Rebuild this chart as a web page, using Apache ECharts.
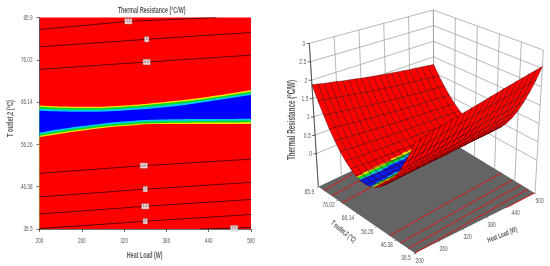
<!DOCTYPE html>
<html><head><meta charset="utf-8">
<style>html,body{margin:0;padding:0;background:#fff}#c{width:550px;height:266px}</style>
<script src="https://cdn.jsdelivr.net/npm/echarts@6/dist/echarts.min.js"></script></head>
<body><div id="c"></div>
<script>
const heatLoadTicks=[200,260,320,380,440,500];
const tOutletTicks=[36.5,46.38,56.26,66.14,76.02,85.9];
const resistanceTicks=[0,0.5,1,1.5,2,2.5,3];
const titleText='Thermal Resistance (°C/W)';
const xTitle='Heat Load (W)';
const yTitle='T outlet,2 (°C)';
const upperYellow=[65.36,65.05,65.36,66.22,67.38,68.94];
const upperGreen=[65.05,64.75,65.06,65.92,67.05,68.6];
const upperCyan=[64.6,64.35,64.65,65.45,66.7,68.2];
const upperBlue=[64.12,63.88,64.19,64.97,66.29,67.77];
const lowerBlue=[59.0,60.54,61.63,62.09,62.17,62.25];
const lowerCyan=[58.6,60.15,61.2,61.65,61.75,61.85];
const lowerGreen=[58.25,59.75,60.8,61.25,61.35,61.45];
const lowerYellow=[57.97,59.45,60.54,61.0,61.0,61.0];
const contour15Up=[[200,83.1],[326,85.0],[451,85.9]];
const contour10Up=[[200,79.05],[352,80.8],[500,82.4]];
const contour05Up=[[200,73.8],[352,75.5],[500,77.1]];
const contour05Low=[[200,49.5],[348,51.3],[500,52.8]];
const contour10Low=[[200,44.0],[350,45.8],[500,47.4]];
const contour15Low=[[200,40.0],[350,41.8],[500,43.4]];
const contour20Low=[[200,36.6],[350,38.3],[500,39.9]];
const contour25Low=[[428,36.5],[476,36.7],[500,36.85]];
const contourLabels=['1.5','1','0.5','0.5','1','1.5','2','2.5'];
// rows: T outlet from 36.5 to 85.9; columns: heat load from 200 to 500
const surface=[
[1.70,1.74,1.78,1.82,1.86,1.90,1.94,1.98,2.02,2.06,2.10,2.14,2.19,2.23,2.28,2.32,2.37,2.41,2.46,2.50,2.55],
[1.38,1.42,1.45,1.49,1.52,1.56,1.59,1.63,1.66,1.70,1.73,1.77,1.81,1.85,1.89,1.93,1.96,2.00,2.04,2.08,2.12],
[1.10,1.13,1.16,1.19,1.22,1.25,1.27,1.30,1.33,1.36,1.39,1.42,1.46,1.49,1.53,1.56,1.60,1.63,1.67,1.70,1.74],
[.84,.87,.89,.92,.94,.97,1.00,1.02,1.05,1.07,1.10,1.13,1.16,1.19,1.22,1.25,1.27,1.30,1.33,1.36,1.39],
[.63,.65,.67,.69,.71,.73,.75,.77,.79,.81,.83,.86,.88,.91,.93,.96,.98,1.01,1.03,1.06,1.08],
[.44,.46,.47,.49,.51,.53,.54,.56,.58,.59,.61,.63,.65,.67,.69,.71,.73,.75,.77,.79,.81],
[.29,.30,.32,.33,.34,.36,.37,.38,.40,.41,.42,.44,.45,.47,.48,.50,.52,.53,.55,.56,.58],
[.165,.17,.18,.19,.20,.21,.22,.23,.24,.25,.26,.27,.29,.30,.31,.33,.34,.35,.36,.38,.39],
[.08,.08,.09,.10,.10,.11,.12,.12,.13,.14,.14,.15,.16,.17,.18,.19,.20,.21,.22,.23,.24],
[.02,.03,.03,.03,.04,.04,.04,.05,.05,.05,.06,.06,.07,.08,.08,.09,.09,.10,.11,.11,.12],
[.00,.00,.00,.00,.01,.01,.01,.01,.01,.01,.01,.02,.02,.02,.02,.03,.03,.03,.04,.04,.04],
[.01,.01,.01,.01,.01,.00,.00,.00,.00,.00,.00,.00,.00,.00,.00,.00,.00,.00,.00,.01,.01],
[.07,.06,.06,.05,.05,.05,.04,.04,.03,.03,.03,.02,.02,.02,.01,.01,.01,.01,.00,.00,.00],
[.16,.15,.14,.13,.12,.12,.11,.11,.10,.09,.09,.08,.08,.07,.07,.06,.06,.05,.05,.04,.04],
[.29,.27,.26,.25,.24,.23,.22,.21,.20,.19,.18,.17,.17,.16,.15,.14,.13,.13,.12,.11,.11],
[.45,.44,.42,.41,.40,.38,.37,.36,.34,.33,.32,.31,.30,.29,.28,.27,.26,.25,.23,.22,.21],
[.66,.64,.62,.61,.59,.57,.56,.54,.52,.51,.49,.48,.46,.45,.43,.42,.41,.39,.38,.36,.35],
[.90,.88,.86,.84,.82,.80,.78,.76,.74,.72,.70,.68,.66,.65,.63,.61,.59,.58,.56,.54,.52],
[1.19,1.16,1.14,1.11,1.09,1.06,1.04,1.01,.99,.96,.94,.92,.90,.88,.86,.84,.81,.79,.77,.75,.73],
[1.51,1.48,1.45,1.42,1.39,1.37,1.34,1.31,1.28,1.25,1.22,1.20,1.17,1.15,1.12,1.10,1.07,1.05,1.02,1.00,.97],
[1.87,1.84,1.80,1.77,1.74,1.70,1.67,1.64,1.60,1.57,1.54,1.51,1.48,1.45,1.42,1.39,1.36,1.34,1.31,1.28,1.25]
];

const FONT='"Liberation Sans",sans-serif';
const GRAY='#5a5a5a';
const Q0=200,Q1=500,T0=36.5,T1=85.9,Z0=-0.9,Z1=3;
const contours=[contour15Up,contour10Up,contour05Up,contour05Low,contour10Low,contour15Low,contour20Low,contour25Low];
const bandLayers=[[upperYellow,'#ffe000'],[upperGreen,'#00e020'],[upperCyan,'#00c8f0'],[upperBlue,'#0000ff'],
 [lowerBlue,'#00c8f0'],[lowerCyan,'#00e020'],[lowerGreen,'#ffe000'],[lowerYellow,'#ff0000']];

// Projection of the 3D box into the scene axes (trilinear between the box corners)
const C={b00:[420,760],b10:[780,580],b01:[130,560],b11:[477,395],t00:[420,261],t10:[805,150],t01:[103,130],t11:[475,30]};
function proj(q,t,z){
 const u=(q-Q0)/(Q1-Q0),v=(t-T0)/(T1-T0),w=(z-Z0)/(Z1-Z0);
 const m=k=>{
  const b=(1-u)*(1-v)*C.b00[k]+u*(1-v)*C.b10[k]+(1-u)*v*C.b01[k]+u*v*C.b11[k];
  const a=(1-u)*(1-v)*C.t00[k]+u*(1-v)*C.t10[k]+(1-u)*v*C.t01[k]+u*v*C.t11[k];
  return b+(a-b)*w;};
 return [m(0),m(1)];
}
const qAt=j=>Q0+(Q1-Q0)*j/20, tAt=i=>T0+(T1-T0)*i/20;
function cellColor(z){return z<.02?'#0018ff':z<.03?'#00c0f0':z<.045?'#00e020':z<.06?'#f8e800':'#ff0000';}
const cells=[];
for(let j=19;j>=0;j--)for(let i=19;i>=0;i--)cells.push([j,i]);

function line(api,a,b,color,w){const p=api.coord(a),r=api.coord(b);
 return {type:'line',shape:{x1:p[0],y1:p[1],x2:r[0],y2:r[1]},style:{stroke:color,lineWidth:w}};}
function poly(api,pts,fill){return {type:'polygon',shape:{points:pts.map(p=>api.coord(p))},style:{fill:fill,stroke:null}};}
function txtPx(c,text,size,rot,bold,align,sx){
 return {type:'text',x:c[0],y:c[1],rotation:rot||0,scaleX:sx,style:{text:text,x:0,y:0,align:align||'center',verticalAlign:'middle',fontFamily:FONT,fontSize:size,fontWeight:bold?'bold':'normal',fill:GRAY}};}
function txt(api,p,text,size,rot,bold,align,sx){return txtPx(api.coord(p),text,size,rot,bold,align,sx);}

const scene={coordinateSystem:'cartesian2d',xAxisIndex:1,yAxisIndex:1,silent:true,progressive:0,animation:false};
const series=[];
bandLayers.forEach(l=>series.push({type:'line',xAxisIndex:0,yAxisIndex:0,smooth:true,symbol:'none',silent:true,
 lineStyle:{width:0},areaStyle:{color:l[1],opacity:1,origin:'start'},data:heatLoadTicks.map((q,i)=>[q,l[0][i]])}));
contours.forEach(c=>series.push({type:'line',xAxisIndex:0,yAxisIndex:0,symbol:'none',silent:true,z:4,
 lineStyle:{width:.7,color:'#1a0000'},data:c}));
series.push({type:'scatter',xAxisIndex:0,yAxisIndex:0,symbolSize:1,itemStyle:{color:'rgba(0,0,0,0)'},z:5,silent:true,
 data:contours.map((c,i)=>({value:c[1],label:{formatter:contourLabels[i]}})),
 label:{show:true,position:'inside',fontSize:3.5,fontFamily:FONT,color:'#333',backgroundColor:'#fff',borderColor:'#888',borderWidth:.5,padding:[0.5,1]}});
// texts of the flat chart, placed from its axes
series.push({type:'custom',coordinateSystem:'cartesian2d',xAxisIndex:0,yAxisIndex:0,silent:true,z:6,clip:false,data:[[Q0,T0]],renderItem(p,api){
 const ch=[];
 heatLoadTicks.forEach(q=>{const a=api.coord([q,T0]);ch.push(txtPx([a[0],a[1]+11.5],String(q),8,0,false,'center',.58));});
 tOutletTicks.forEach(t=>{const a=api.coord([Q0,t]);ch.push(txtPx([a[0]-7,a[1]],String(t),8,0,false,'right',.58));});
 const b=api.coord([350,T0]),c=api.coord([359,T1]),d=api.coord([Q0,(T0+T1)/2+2.5]);
 ch.push(txtPx([b[0]-.5,b[1]+26],xTitle,9.5,0,true,'center',.56));
 ch.push(txtPx([c[0],c[1]-7.5],titleText,9.5,0,true,'center',.56));
 ch.push(txtPx([d[0]-29,d[1]+6],yTitle,9.5,Math.PI/2,true,'center',.6));
 return {type:'group',children:ch};}});
// walls
series.push(Object.assign({},scene,{type:'custom',z:2,data:[[0,0]],renderItem(p,api){
 const ch=[];
 ch.push(poly(api,[proj(Q0,T1,Z0),proj(Q1,T1,Z0),proj(Q1,T1,Z1),proj(Q0,T1,Z1)],'#fff'));
 ch.push(poly(api,[proj(Q1,T0,Z0),proj(Q1,T1,Z0),proj(Q1,T1,Z1),proj(Q1,T0,Z1)],'#fff'));
 heatLoadTicks.forEach(q=>ch.push(line(api,proj(q,T1,Z0),proj(q,T1,Z1),'#9a9a9a',.7)));
 tOutletTicks.forEach(t=>ch.push(line(api,proj(Q1,t,Z0),proj(Q1,t,Z1),'#9a9a9a',.7)));
 resistanceTicks.forEach(z=>{ch.push(line(api,proj(Q0,T1,z),proj(Q1,T1,z),'#9a9a9a',.7));
  ch.push(line(api,proj(Q1,T1,z),proj(Q1,T0,z),'#9a9a9a',.7));});
 return {type:'group',children:ch};}}));
// floor + floor contours
series.push(Object.assign({},scene,{type:'custom',z:2,data:[[0,0]],renderItem(p,api){
 const ch=[poly(api,[proj(Q0,T0,Z0),proj(Q1,T0,Z0),proj(Q1,T1,Z0),proj(Q0,T1,Z0)],'#646464')];
 contours.forEach(c=>{for(let k=0;k<c.length-1;k++)ch.push(line(api,proj(c[k][0],c[k][1],Z0),proj(c[k+1][0],c[k+1][1],Z0),'#e81010',.9));});
 return {type:'group',children:ch};}}));
// surface: vertex colours are blended across a cell, so low cells are cut in strips along T
series.push(Object.assign({},scene,{type:'custom',z:3,data:cells,renderItem(p,api){
 const j=api.value(0),i=api.value(1);
 const zv=(a,b)=>{const ja=Math.floor(a),ib=Math.floor(b),fa=a-ja,fb=b-ib,ja1=Math.min(ja+1,20),ib1=Math.min(ib+1,20);
  return (1-fa)*(1-fb)*surface[ib][ja]+fa*(1-fb)*surface[ib][ja1]+(1-fa)*fb*surface[ib1][ja]+fa*fb*surface[ib1][ja1];};
 const pt=(a,b)=>api.coord(proj(Q0+(Q1-Q0)*a/20,T0+(T1-T0)*b/20,zv(a,b)));
 const low=Math.min(surface[i][j],surface[i+1][j],surface[i][j+1],surface[i+1][j+1])<.06;
 const ch=[];
 if(low){const n=6;for(let k=0;k<n;k++){
   const b0=i+k/n,b1=i+(k+1)/n,col=cellColor(zv(j+.5,(b0+b1)/2));
   ch.push({type:'polygon',shape:{points:[pt(j,b0),pt(j+1,b0),pt(j+1,b1),pt(j,b1)]},style:{fill:col,stroke:col,lineWidth:.3}});}}
 ch.push({type:'polygon',shape:{points:[pt(j,i),pt(j+1,i),pt(j+1,i+1),pt(j,i+1)]},
  style:{fill:low?null:'#ff0000',stroke:'#4a0000',lineWidth:.45}});
 return {type:'group',children:ch};}}));
// axes of the box
series.push(Object.assign({},scene,{type:'custom',z:4,data:[[0,0]],renderItem(p,api){
 const ch=[line(api,proj(Q0,T1,Z0),proj(Q0,T1,Z1),'#222',.7)];
 resistanceTicks.forEach(z=>{const a=proj(Q0,T1,z);
  ch.push(line(api,a,[a[0]-9,a[1]+1],'#222',.7));
  ch.push(txt(api,[a[0]-13,a[1]+1],String(z),8,0,false,'right',.62));});
 heatLoadTicks.forEach(q=>{const a=proj(q,T0,Z0);
  ch.push(line(api,a,[a[0]+3,a[1]+3],'#222',.7));
  ch.push(txt(api,[a[0]+14,a[1]+22],String(q),8,0,false,'center',.62));});
 tOutletTicks.forEach(t=>{const a=proj(Q0,t,Z0);
  ch.push(line(api,a,[a[0]-3,a[1]+3],'#222',.7));
  ch.push(txt(api,[a[0]-27,a[1]+14],String(t),8,0,false,'center',.62));});
 ch.push(txt(api,[50,360],titleText,10.5,Math.PI/2,true,'center',.6));
 ch.push(txt(api,[205,695],yTitle,7.5,-0.68,true,'center',.62));
 ch.push(txt(api,[682,705],xTitle,7.5,0.38,true,'center',.62));
 return {type:'group',children:ch};}}));

const chart=echarts.init(document.getElementById('c'),null,{renderer:'canvas'});
chart.setOption({animation:false,backgroundColor:'#fff',
 grid:[{left:39.5,top:17.5,width:211.5,height:211.5,show:true,backgroundColor:'#ff0000',borderWidth:0},
       {left:275,top:0,width:275,height:266,show:false}],
 xAxis:[{type:'value',gridIndex:0,min:Q0,max:Q1,
   axisLine:{lineStyle:{color:'#333',width:.7}},axisTick:{length:3,customValues:heatLoadTicks,lineStyle:{color:'#333',width:.7}},
   axisLabel:{show:false},splitLine:{show:false}},
  {type:'value',gridIndex:1,min:0,max:825,show:false}],
 yAxis:[{type:'value',gridIndex:0,min:T0,max:T1,
   axisLine:{show:true,lineStyle:{color:'#333',width:.7}},axisTick:{show:true,length:3,customValues:tOutletTicks,lineStyle:{color:'#333',width:.7}},
   axisLabel:{show:false},splitLine:{show:false}},
  {type:'value',gridIndex:1,min:0,max:798,inverse:true,show:false}],
 series:series});
</script></body></html>
